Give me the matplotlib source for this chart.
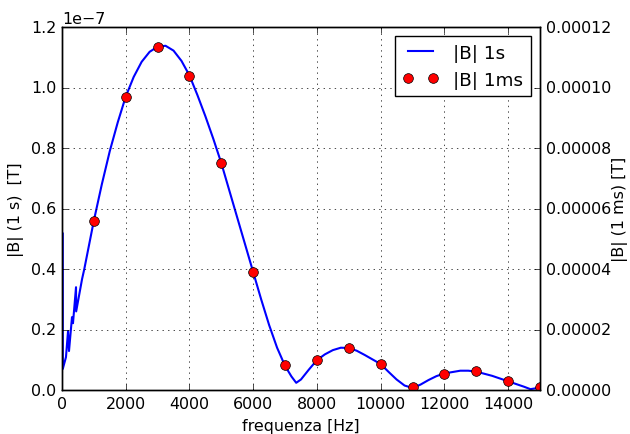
import numpy as np
import matplotlib
matplotlib.use('Agg')
import matplotlib.pyplot as plt
from matplotlib.ticker import FormatStrFormatter

plt.style.use('classic')
plt.rcParams['font.size'] = 11.4
plt.rcParams['figure.facecolor'] = 'white'
plt.rcParams['savefig.facecolor'] = 'white'

# |B| measured over 1 s (continuous curve), in units of 1e-7 T
f_1s = [0, 12, 25, 125, 190, 220, 314, 345, 440, 445, 630, 700, 1000, 1250, 1500,
        1750, 2000, 2250, 2500, 2750, 3000, 3250, 3500, 3750, 4000, 4250, 4500,
        4750, 5000, 5250, 5500, 5750, 6000, 6250, 6500, 6750, 7000, 7200, 7350,
        7500, 7750, 8000, 8250, 8500, 8750, 9000, 9250, 9500, 9750, 10000, 10250,
        10500, 10750, 11000, 11250, 11500, 11750, 12000, 12500, 12750, 13000,
        13500, 14000, 14500, 14700, 15000]
b_1s = [0.06, 0.52, 0.07, 0.109, 0.195, 0.129, 0.241, 0.221, 0.34, 0.26, 0.367,
        0.40, 0.56, 0.68, 0.79, 0.885, 0.97, 1.035, 1.085, 1.118, 1.135, 1.138,
        1.122, 1.088, 1.04, 0.975, 0.905, 0.83, 0.75, 0.66, 0.57, 0.48, 0.39,
        0.30, 0.215, 0.14, 0.08, 0.045, 0.024, 0.035, 0.068, 0.099, 0.118, 0.132,
        0.14, 0.139, 0.13, 0.116, 0.101, 0.086, 0.06, 0.035, 0.015, 0.007, 0.018,
        0.033, 0.046, 0.055, 0.064, 0.064, 0.061, 0.047, 0.029, 0.011, 0.003, 0.008]

# |B| measured over 1 ms (points), in T
f_1ms = [1000, 2000, 3000, 4000, 5000, 6000, 7000, 8000, 9000, 10000, 11000,
         12000, 13000, 14000, 15000]
b_1ms = [0.559e-4, 0.969e-4, 1.134e-4, 1.038e-4, 0.750e-4, 0.390e-4, 0.083e-4,
         0.099e-4, 0.139e-4, 0.086e-4, 0.010e-4, 0.054e-4, 0.062e-4, 0.029e-4,
         0.009e-4]

fig = plt.figure(figsize=(6.3, 4.35), dpi=100)
ax1 = fig.add_axes([0.0984, 0.101, 0.7587, 0.8346])
ax2 = ax1.twinx()

l1, = ax1.plot(f_1s, np.array(b_1s) * 1e-7, 'b-', lw=1.5, label='|B| 1s')
l2, = ax2.plot(f_1ms, b_1ms, 'ro', ms=7, label='|B| 1ms')

ax1.set_xlim(0, 15000)
ax1.set_ylim(0, 1.2e-7)
ax2.set_ylim(0, 0.00012)
ax1.ticklabel_format(axis='y', style='sci', scilimits=(-7, 7))
ax2.yaxis.set_major_formatter(FormatStrFormatter('%.5f'))

ax1.grid(True)
ax1.set_xlabel('frequenza [Hz]')
ax1.set_ylabel('|B| (1 s)  [T]')
ax2.set_ylabel('|B| (1 ms) [T]', labelpad=1)

ax2.legend([l1, l2], ['|B| 1s', '|B| 1ms'], loc='upper right', numpoints=2,
           fontsize=13.2)

fig.savefig('out.png', dpi=100)
